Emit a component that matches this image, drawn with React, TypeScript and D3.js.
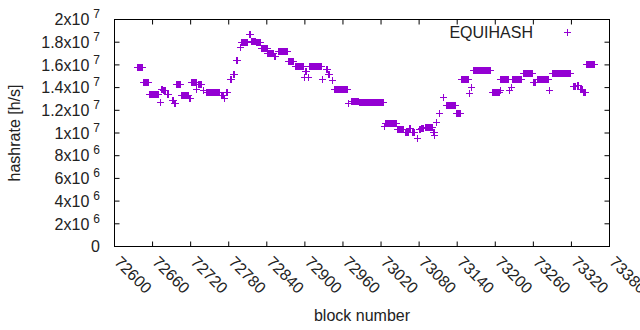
import React, { useEffect, useRef } from "react";
import * as d3 from "d3";

// runs of consecutive blocks sharing the same hashrate estimate (in 10^6 h/s)
const runStart = [
  72636, 72645, 72654, 72671, 72673, 72677, 72682, 72690, 72694, 72697,
  72705, 72717, 72721, 72729, 72731, 72739, 72744, 72768, 72772, 72775,
  72782, 72787, 72792, 72797, 72799, 72812, 72815, 72823, 72831, 72841,
  72851, 72857, 72873, 72884, 72898, 72900, 72905, 72907, 72927, 72934,
  72937, 72942, 72946, 72968, 72972, 72985, 73024, 73026, 73045, 73058,
  73064, 73069, 73076, 73080, 73083, 73090, 73102, 73104, 73107, 73111,
  73117, 73122, 73138, 73146, 73159, 73161, 73165, 73195, 73207, 73208,
  73221, 73224, 73227, 73243, 73260, 73266, 73284, 73290, 73322, 73328,
  73333, 73339, 73343,
];
const runEnd = [
  72643, 72653, 72668, 72671, 72675, 72679, 72684, 72692, 72696, 72703,
  72716, 72719, 72728, 72729, 72737, 72740, 72764, 72771, 72773, 72777,
  72783, 72788, 72793, 72798, 72809, 72814, 72822, 72830, 72840, 72849,
  72853, 72872, 72882, 72897, 72898, 72902, 72905, 72925, 72927, 72935,
  72938, 72943, 72966, 72968, 72983, 73023, 73024, 73044, 73055, 73062,
  73065, 73072, 73076, 73081, 73086, 73100, 73103, 73104, 73107, 73112,
  73118, 73137, 73144, 73157, 73159, 73161, 73192, 73206, 73207, 73220,
  73221, 73224, 73240, 73258, 73262, 73283, 73284, 73318, 73325, 73330,
  73336, 73341, 73355,
];
const runHashrate = [
  15.85, 14.47, 13.48, 12.77, 13.92, 13.77, 13.48, 12.89, 12.65, 14.36,
  13.39, 13.04, 14.45, 13.89, 14.36, 13.77, 13.57, 13.33, 13.1, 13.57,
  14.74, 15.24, 16.41, 17.55, 18.06, 18.68, 18.11, 18.04, 17.53, 17.09,
  16.79, 17.2, 16.3, 15.86, 14.94, 15.47, 14.94, 15.86, 14.8, 15.68,
  15.24, 14.65, 13.92, 12.65, 12.83, 12.69, 10.6, 10.87, 10.31, 10.12,
  10.48, 10.1, 9.6, 10.33, 10.45, 10.54, 10.1, 9.8, 10.98, 11.72,
  13.18, 12.45, 11.72, 14.8, 13.53, 14.06, 15.53, 13.62, 13.83, 14.8,
  13.77, 14.06, 14.8, 15.33, 14.45, 14.74, 13.77, 15.33, 14.12, 14.27,
  13.92, 13.62, 16.12,
];

const xTicks = [
  72600, 72660, 72720, 72780, 72840, 72900, 72960, 73020, 73080, 73140,
  73200, 73260, 73320, 73380,
];
const yTicks = [0, 2e6, 4e6, 6e6, 8e6, 1e7, 1.2e7, 1.4e7, 1.6e7, 1.8e7, 2e7];
const yTickBase = ["0", "2x10", "4x10", "6x10", "8x10", "1x10", "1.2x10", "1.4x10", "1.6x10", "1.8x10", "2x10"];
const yTickExp = ["", "6", "6", "6", "6", "7", "7", "7", "7", "7", "7"];

const seriesName = "EQUIHASH";
const color = "#9400d3";

const width = 640, height = 330;
const left = 114.5, right = 609.5, top = 19.5, bottom = 246.5;
const font = "'Liberation Sans', Arial, sans-serif";

const App = () => {
  const svgRef = useRef(null);

  useEffect(() => {
    const svg = d3.select(svgRef.current);
    svg.selectAll("*").remove();

    const points = [];
    runStart.forEach((s, i) => {
      for (let b = s; b <= runEnd[i]; b++) points.push([b, runHashrate[i] * 1e6]);
    });

    const x = d3.scaleLinear().domain([72600, 73380]).range([left, right]);
    const y = d3.scaleLinear().domain([0, 2e7]).range([bottom, top]);

    const g = svg.append("g").style("font-family", font).style("font-size", "16px");

    // ticks, mirrored on all four sides (gnuplot style)
    const tl = 5;
    g.selectAll("path.yt")
      .data(yTicks)
      .join("path")
      .attr("d", d => `M${left},${y(d)}h${tl}M${right},${y(d)}h${-tl}`)
      .attr("stroke", "#000");
    g.selectAll("path.xt")
      .data(xTicks)
      .join("path")
      .attr("d", d => `M${x(d)},${bottom}v${-tl}M${x(d)},${top}v${tl}`)
      .attr("stroke", "#000");

    g.append("rect")
      .attr("x", left).attr("y", top)
      .attr("width", right - left).attr("height", bottom - top)
      .attr("fill", "none").attr("stroke", "#000");

    // y labels with superscript exponent
    const yl = g.selectAll("text.yl")
      .data(yTicks)
      .join("text")
      .attr("x", 100)
      .attr("y", d => y(d))
      .attr("dy", "0.36em")
      .attr("text-anchor", "end")
      .attr("fill", "#222");
    yl.append("tspan").text((d, i) => yTickBase[i]);
    yl.append("tspan")
      .attr("dx", (d, i) => (yTickExp[i] ? 4 : 0))
      .attr("dy", -7)
      .style("font-size", "12px")
      .text((d, i) => yTickExp[i]);

    // x labels, rotated
    g.selectAll("text.xl")
      .data(xTicks)
      .join("text")
      .attr("transform", d => `translate(${x(d) - 1},${263}) rotate(45)`)
      .attr("fill", "#222")
      .text(d => d);

    g.append("text")
      .attr("transform", `translate(20,${(top + bottom) / 2}) rotate(-90)`)
      .attr("text-anchor", "middle")
      .attr("fill", "#222")
      .text("hashrate [h/s]");

    g.append("text")
      .attr("x", (left + right) / 2)
      .attr("y", 321)
      .attr("text-anchor", "middle")
      .attr("fill", "#222")
      .text("block number");

    const plus = (cx, cy) => `M${cx - 3.5},${cy}h7M${cx},${cy - 3.5}v7`;

    g.append("path")
      .attr("d", points.map(p => plus(Math.round(x(p[0])) + 0.5, Math.round(y(p[1])) + 0.5)).join(""))
      .attr("fill", "none")
      .attr("stroke", color)
      .attr("stroke-width", 1);

    // legend
    g.append("text")
      .attr("x", 533)
      .attr("y", 38)
      .attr("text-anchor", "end")
      .attr("fill", "#222")
      .text(seriesName);
    g.append("path")
      .attr("d", plus(567.5, 32.5))
      .attr("stroke", color)
      .attr("fill", "none");
  }, []);

  return (
    <svg
      ref={svgRef}
      width={width}
      height={height}
      style={{ position: "absolute", left: 0, top: 0, background: "#fff" }}
    ></svg>
  );
};

export default App;
